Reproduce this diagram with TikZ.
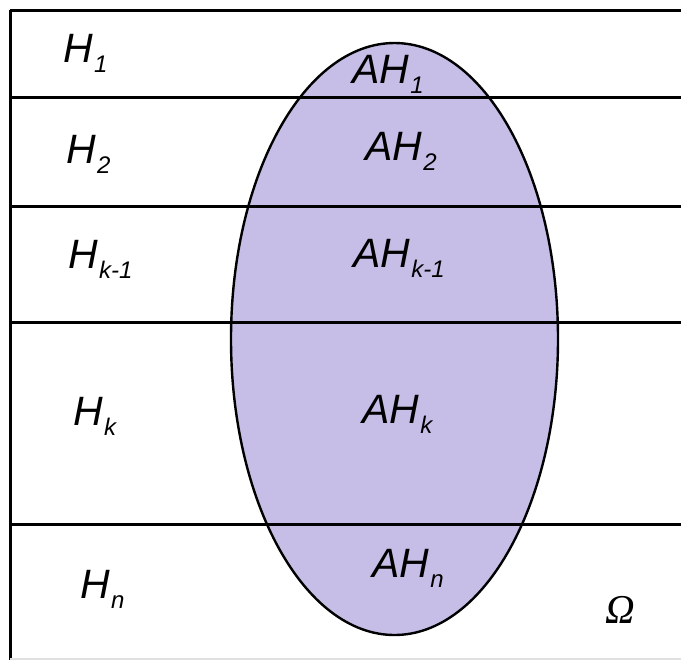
\documentclass[tikz,border=0pt]{standalone}
\usepackage{fontspec}
\setmainfont{Liberation Sans}
\newfontfamily\omegafont{Liberation Serif}
\usetikzlibrary{positioning}
\definecolor{eventfill}{RGB}{198,190,230}
\newcommand{\lowidx}[1]{\kern0.5pt\raisebox{-5pt}{\fontsize{12}{12}\selectfont #1}}

\begin{document}
\begin{tikzpicture}[
    x=0.5pt, y=-0.5pt,
    font=\fontsize{20.5}{20.5}\selectfont\itshape,
    lbl/.style={anchor=base west, inner sep=0pt},
    part/.style={line width=1.5pt, line cap=square},
    event/.style={fill=eventfill, draw=black, line width=1.2pt}
]
\useasboundingbox (0,0) rectangle (681,660);

% event A
\filldraw[event] (394.5,339) ellipse [x radius=81.75pt, y radius=148pt];

% partition of Omega
\draw[part] (10,10) -- (681,10);
\draw[part] (10,97) -- (681,97);
\draw[part] (10,206) -- (681,206);
\draw[part] (10,322) -- (681,322);
\draw[part] (10,524) -- (681,524);
\draw[part] (10,10) -- (10,660);
\draw[black!12, line width=0.6pt] (10,659) -- (681,659);

% hypotheses
\node[lbl] (h1) at (63,62) {H\lowidx{1}};
\node[lbl] (h2) at (66,163) {H\lowidx{2}};
\node[lbl] (hk1) at (68,268) {H\lowidx{k-1}};
\node[lbl] (hk) at (73,425) {H\lowidx{k}};
\node[lbl] (hn) at (80,598) {H\lowidx{n}};

% intersections with A
\node[lbl] (ah1) at (352,83) {AH\lowidx{1}};
\node[lbl] (ah2) at (365,160) {AH\lowidx{2}};
\node[lbl] (ahk1) at (353,267) {AH\lowidx{k-1}};
\node[lbl] (ahk) at (362,423) {AH\lowidx{k}};
\node[lbl] (ahn) at (372,577) {AH\lowidx{n}};

% sample space
\node[lbl, font=\fontsize{20.5}{20.5}\selectfont\omegafont\itshape] (omega) at (605,623) {Ω};
\end{tikzpicture}
\end{document}
